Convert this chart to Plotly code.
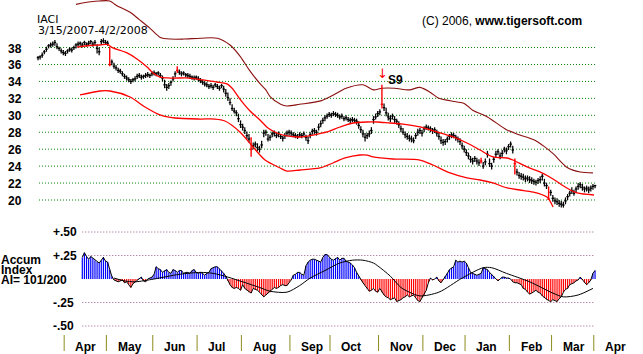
import plotly.graph_objects as go

# ---------------- data ----------------
closes = [
    36.8, 36.9, 37.1, 37.5, 37.8, 38.2, 38.3, 38.4, 38.6, 38.1,
    37.9, 37.6, 37.4, 37.3, 37.6, 37.8, 37.7, 38.0, 38.3, 38.4,
    38.5, 38.3, 38.6, 38.4, 38.5, 38.7, 38.4, 38.6, 37.9, 37.5,
    38.7, 38.8, 38.6, 38.5, 36.0, 36.3, 35.8, 35.6, 35.3, 35.2,
    34.9, 34.6, 34.4, 34.2, 34.0, 34.2, 34.3, 34.6, 34.7, 34.5,
    34.6, 34.7, 34.8, 34.7, 34.9, 35.0, 34.9, 35.0, 34.7, 34.4,
    33.6, 33.3, 33.5, 33.9, 34.3, 34.9, 35.3, 35.1, 34.9, 35.0,
    34.8, 34.7, 34.6, 34.5, 34.4, 34.5, 34.3, 34.1, 33.9, 33.7,
    33.6, 33.4, 33.5, 33.3, 33.6, 33.4, 33.2, 33.5, 33.1, 32.6,
    32.1, 31.5, 30.8, 30.5, 30.3, 29.6, 28.9, 28.6, 28.2, 27.6,
    27.2, 26.0, 26.4, 26.6, 26.2, 26.0, 26.5, 27.9, 28.0, 27.2,
    27.4, 27.8, 27.9, 27.6, 27.8, 27.5, 27.3, 27.6, 27.9, 28.0,
    27.9, 27.7, 27.6, 27.5, 27.7, 27.6, 27.8, 27.4, 27.0, 27.7,
    28.1, 28.2, 28.0, 28.6, 29.0, 29.4, 29.7, 29.9, 30.1, 30.0,
    30.2, 30.1, 30.0, 29.8, 29.9, 29.6, 29.7, 29.5, 29.4, 29.5,
    29.4, 29.3, 28.8, 28.3, 27.8, 27.4, 27.6, 27.8, 28.2, 29.5,
    29.8, 30.2, 30.4, 31.3, 30.9, 30.3, 29.8, 29.6, 29.9, 29.5,
    29.3, 28.9, 28.4, 28.0, 27.7, 27.5, 27.3, 27.2, 27.0, 27.6,
    28.0, 28.2, 27.9, 28.4, 28.6, 28.5, 28.4, 28.2, 28.3, 27.9,
    27.5, 27.0, 26.8, 26.9, 27.2, 27.5, 27.7, 27.6, 27.4, 27.2,
    26.9, 26.4, 26.0, 25.6, 25.2, 24.8, 24.6, 24.9, 24.6, 24.4,
    24.6, 24.0, 24.5, 25.4, 24.3, 24.0, 24.8, 25.4, 25.7, 25.2,
    25.5, 26.0, 25.8, 26.3, 26.6, 25.9, 24.3, 23.3, 22.9, 22.8,
    22.7, 22.5, 22.6, 22.4, 22.3, 22.2, 22.1, 22.3, 22.4, 22.8,
    22.0, 21.7, 20.1, 20.9, 20.2, 19.9, 19.8, 19.6, 19.5, 19.4,
    19.9, 20.4, 20.8, 21.1, 20.8, 21.3, 21.6, 21.8, 21.5, 21.3,
    21.4, 21.2, 21.4, 21.6, 21.7,
]
highs = [
    37.0, 37.1, 37.4, 37.7, 38.1, 38.4, 38.6, 38.7, 38.9, 38.5,
    38.1, 37.9, 37.7, 37.6, 37.8, 38.0, 38.0, 38.2, 38.5, 38.7,
    38.7, 38.6, 38.8, 38.6, 38.8, 38.9, 38.7, 38.9, 38.4, 38.0,
    39.0, 39.1, 38.9, 38.8, 38.1, 36.6, 36.2, 35.9, 35.6, 35.5,
    35.2, 34.9, 34.7, 34.5, 34.3, 34.4, 34.6, 34.9, 35.0, 34.8,
    34.8, 35.0, 35.1, 34.9, 35.2, 35.3, 35.1, 35.2, 35.0, 34.7,
    34.2, 33.7, 33.8, 34.1, 34.6, 35.2, 35.8, 35.4, 35.2, 35.2,
    35.0, 35.0, 34.9, 34.7, 34.7, 34.7, 34.6, 34.4, 34.2, 34.0,
    33.9, 33.7, 33.8, 33.6, 33.8, 33.7, 33.5, 33.7, 33.5, 33.1,
    32.7, 32.0, 31.3, 30.9, 30.6, 30.2, 29.4, 29.0, 28.6, 28.1,
    27.8, 27.4, 26.8, 26.9, 26.7, 26.4, 27.0, 28.3, 28.3, 27.8,
    27.7, 28.1, 28.2, 27.9, 28.1, 27.8, 27.6, 27.9, 28.2, 28.3,
    28.2, 28.0, 27.9, 27.8, 28.0, 27.9, 28.1, 27.7, 27.5, 28.0,
    28.4, 28.5, 28.3, 29.0, 29.4, 29.7, 30.0, 30.2, 30.4, 30.3,
    30.5, 30.4, 30.3, 30.1, 30.2, 29.9, 30.0, 29.8, 29.7, 29.8,
    29.7, 29.6, 29.3, 28.7, 28.3, 27.9, 27.9, 28.2, 28.6, 29.9,
    30.2, 30.5, 30.7, 33.6, 31.4, 30.9, 30.3, 30.0, 30.2, 29.9,
    29.6, 29.3, 28.8, 28.5, 28.1, 27.9, 27.7, 27.6, 27.4, 27.9,
    28.4, 28.5, 28.3, 28.7, 28.9, 28.8, 28.7, 28.5, 28.6, 28.3,
    27.9, 27.5, 27.2, 27.2, 27.5, 27.8, 28.0, 27.9, 27.7, 27.5,
    27.3, 26.8, 26.4, 26.0, 25.6, 25.2, 25.0, 25.2, 25.0, 24.8,
    25.0, 24.5, 24.9, 25.8, 24.9, 24.4, 25.1, 25.8, 26.0, 25.6,
    25.9, 26.3, 26.2, 26.6, 26.9, 26.4, 24.9, 23.7, 23.3, 23.2,
    23.1, 22.9, 22.9, 22.8, 22.7, 22.5, 22.4, 22.6, 22.8, 23.1,
    22.5, 22.0, 21.6, 21.2, 20.6, 20.3, 20.2, 20.0, 19.9, 19.8,
    20.3, 20.7, 21.1, 21.5, 21.2, 21.6, 22.0, 22.1, 21.9, 21.6,
    21.7, 21.6, 21.7, 21.9, 21.8,
]
lows = [
    36.5, 36.6, 36.8, 37.2, 37.5, 37.9, 38.0, 38.1, 38.2, 37.8,
    37.6, 37.3, 37.1, 37.0, 37.3, 37.5, 37.4, 37.7, 37.9, 38.1,
    38.2, 38.0, 38.3, 38.1, 38.2, 38.4, 38.1, 38.3, 37.3, 37.1,
    38.3, 38.5, 38.3, 38.2, 35.8, 35.9, 35.5, 35.3, 35.0, 34.9,
    34.6, 34.3, 34.1, 33.9, 33.7, 33.9, 34.0, 34.3, 34.4, 34.2,
    34.3, 34.4, 34.5, 34.4, 34.6, 34.7, 34.6, 34.7, 34.4, 34.0,
    33.2, 32.9, 33.1, 33.5, 34.0, 34.5, 35.0, 34.8, 34.6, 34.7,
    34.5, 34.4, 34.3, 34.2, 34.1, 34.2, 34.0, 33.8, 33.6, 33.4,
    33.3, 33.1, 33.2, 33.0, 33.3, 33.1, 32.9, 33.2, 32.7, 32.2,
    31.7, 31.2, 30.5, 30.2, 29.9, 29.2, 28.5, 28.2, 27.8, 27.2,
    26.8, 25.1, 26.0, 26.2, 25.8, 25.6, 26.1, 27.4, 27.6, 26.9,
    27.0, 27.4, 27.5, 27.3, 27.4, 27.2, 26.9, 27.2, 27.5, 27.6,
    27.5, 27.4, 27.3, 27.2, 27.4, 27.3, 27.5, 27.0, 26.6, 27.3,
    27.7, 27.8, 27.6, 28.2, 28.6, 29.0, 29.3, 29.6, 29.8, 29.7,
    29.9, 29.8, 29.7, 29.5, 29.6, 29.3, 29.4, 29.2, 29.1, 29.2,
    29.1, 28.9, 28.4, 27.9, 27.4, 26.9, 27.2, 27.4, 27.8, 29.0,
    29.5, 29.8, 30.0, 30.8, 30.5, 29.9, 29.4, 29.2, 29.5, 29.1,
    28.9, 28.5, 28.0, 27.7, 27.3, 27.1, 26.9, 26.8, 26.7, 27.2,
    27.6, 27.8, 27.5, 28.0, 28.3, 28.2, 28.0, 27.8, 27.9, 27.5,
    27.1, 26.6, 26.4, 26.5, 26.8, 27.1, 27.3, 27.3, 27.0, 26.8,
    26.5, 26.0, 25.6, 25.2, 24.8, 24.4, 24.2, 24.5, 24.2, 24.0,
    24.3, 23.7, 24.1, 25.0, 23.9, 23.6, 24.4, 25.0, 25.3, 24.8,
    25.1, 25.6, 25.4, 25.9, 26.2, 25.5, 23.0, 22.9, 22.5, 22.4,
    22.3, 22.1, 22.2, 22.0, 21.9, 21.8, 21.7, 21.9, 22.0, 22.3,
    21.6, 21.3, 20.0, 20.5, 19.8, 19.5, 19.4, 19.2, 19.1, 19.1,
    19.5, 20.0, 20.4, 20.7, 20.5, 20.9, 21.2, 21.4, 21.1, 20.9,
    21.0, 20.8, 21.0, 21.2, 21.4,
]
red_bars = [34, 66, 101, 163, 210, 226, 242]

# Bollinger-style bands (trading-day index, price)
upper_idx = [18, 25, 29, 34, 37, 44, 48, 53, 58, 63, 69, 77, 85, 91, 96, 100, 105, 108, 110,
             115, 118, 124, 134, 140, 146, 154, 159, 163, 169, 176, 181, 186, 190, 198, 202,
             206, 213, 222, 228, 235, 240, 244, 251, 257, 263]
upper_val = [43.1, 43.4, 43.5, 43.5, 43.0, 42.1, 41.3, 40.3, 39.2, 39.0, 39.0, 39.1, 39.1, 38.3,
             36.9, 35.4, 33.8, 33.0, 32.2, 31.3, 31.1, 31.3, 31.7, 32.4, 33.2, 33.6, 33.0, 33.2,
             33.2, 33.0, 33.3, 32.7, 32.0, 31.6, 31.4, 30.6, 29.8, 28.3, 27.7, 27.1, 26.3, 25.5,
             23.8, 23.3, 23.2]
mid_idx = [18.5, 24.6, 29.4, 32.7, 35.5, 42.2, 46.9, 51.7, 54.5, 57.8, 62.6, 72, 78.2, 84.8,
           89.6, 91.9, 95.7, 100.5, 105.2, 109, 113.3, 118, 124.2, 130.3, 137, 143.1, 149.3,
           155.9, 160.7, 166.8, 173, 181, 189.1, 196.7, 203.3, 209.5, 215.6, 222.3, 225.1,
           231.8, 237.9, 244.1, 249.8, 255.5, 263.5]
mid_val = [38.06, 38.24, 38.30, 38.36, 37.95, 37.36, 36.65, 35.70, 34.99, 34.52, 34.40, 34.40,
           34.17, 33.93, 33.70, 33.22, 31.92, 30.51, 29.45, 28.50, 27.91, 27.56, 27.44, 27.67,
           28.03, 28.62, 29.09, 29.21, 29.21, 29.09, 28.97, 28.62, 28.03, 27.44, 26.73, 25.90,
           25.08, 24.96, 24.72, 23.90, 23.31, 22.48, 21.53, 20.83, 20.59]
lower_idx = [19.9, 29.4, 34.1, 43.6, 50.7, 57.8, 64.9, 76.8, 83.9, 88.6, 95.7, 101.9, 107.6,
             114.7, 118, 124.2, 133.6, 139.8, 145.5, 152.6, 155.9, 158.8, 168.2, 181, 187.2,
             195.3, 203.3, 209.5, 215.6, 222.3, 228.4, 234.6, 241.2, 244.1]
lower_val = [32.40, 32.87, 32.87, 32.16, 30.98, 30.04, 29.68, 29.56, 29.56, 29.33, 28.03, 26.26,
             24.72, 23.78, 23.42, 23.54, 23.78, 24.37, 24.96, 25.31, 25.31, 25.08, 24.84, 24.72,
             24.13, 23.19, 22.60, 22.36, 22.01, 21.42, 21.18, 20.94, 20.35, 19.17]

# Accumulation index (starts at trading day 21)
ai_start = 21
ai = [
    0.23, 0.28, 0.24, 0.21, 0.24, 0.22, 0.20, 0.18, 0.17, 0.20,
    0.23, 0.19, 0.18, 0.10, 0.03, -0.01, -0.02, -0.03, -0.02, -0.01,
    -0.04, -0.03, -0.06, -0.09, -0.05, -0.03, -0.01, 0.01, 0.02, -0.02,
    -0.03, 0.00, 0.01, 0.02, 0.05, 0.13, 0.11, 0.10, 0.07, 0.09,
    0.10, 0.07, 0.06, 0.10, 0.09, 0.07, 0.09, 0.09, 0.06, 0.07,
    0.07, 0.06, 0.09, 0.10, 0.07, 0.06, 0.07, 0.06, 0.04, 0.06,
    0.07, 0.11, 0.12, 0.13, 0.13, 0.11, 0.09, 0.06, 0.03, -0.02,
    -0.06, -0.09, -0.10, -0.09, -0.10, -0.12, -0.06, -0.10, -0.12, -0.14,
    -0.15, -0.10, -0.11, -0.12, -0.14, -0.17, -0.19, -0.17, -0.15, -0.14,
    -0.11, -0.09, -0.10, -0.09, -0.07, -0.06, -0.07, -0.07, -0.04, -0.01,
    0.04, 0.05, 0.07, 0.07, 0.05, 0.04, 0.14, 0.18, 0.20, 0.21,
    0.21, 0.20, 0.19, 0.18, 0.23, 0.26, 0.26, 0.23, 0.21, 0.20,
    0.22, 0.23, 0.20, 0.22, 0.22, 0.19, 0.18, 0.17, 0.15, 0.12,
    0.07, 0.03, -0.01, -0.04, -0.07, -0.10, -0.13, -0.12, -0.10, -0.13,
    -0.14, -0.10, -0.14, -0.17, -0.19, -0.20, -0.22, -0.21, -0.20, -0.24,
    -0.23, -0.22, -0.20, -0.19, -0.17, -0.19, -0.18, -0.17, -0.20, -0.23,
    -0.24, -0.20, -0.17, -0.12, -0.04, 0.01, -0.01, 0.00, 0.02, -0.02,
    -0.04, -0.01, 0.03, 0.06, 0.10, 0.12, 0.13, 0.20, 0.18, 0.19,
    0.18, 0.19, 0.17, 0.12, 0.07, 0.06, 0.05, 0.04, 0.05, 0.06,
    0.12, 0.11, 0.10, 0.07, 0.05, 0.03, 0.00, -0.02, 0.00, 0.02,
    0.02, 0.01, 0.01, 0.00, -0.03, -0.04, -0.04, -0.05, -0.06, -0.10,
    -0.11, -0.14, -0.16, -0.15, -0.13, -0.12, -0.14, -0.15, -0.18, -0.20,
    -0.22, -0.23, -0.24, -0.22, -0.23, -0.24, -0.21, -0.19, -0.14, -0.11,
    -0.10, -0.06, -0.05, -0.04, -0.02, -0.01, 0.02, -0.01, -0.04, -0.06,
    -0.04, -0.01, 0.06, 0.09,
]
ai_ma_idx = [36, 41, 46, 55, 67, 77, 83, 90, 97, 105, 110, 118, 124, 129, 136, 143, 149, 154,
             159, 161, 167, 172, 176, 181, 190, 201, 211, 215, 222, 233, 244, 249, 256, 263]
ai_ma = [0.01, -0.02, -0.03, 0.00, 0.05, 0.07, 0.06, 0.02, -0.03, -0.09, -0.13, -0.14, -0.07,
         0.01, 0.09, 0.17, 0.20, 0.20, 0.17, 0.14, 0.03, -0.09, -0.14, -0.18, -0.14, 0.01,
         0.12, 0.12, 0.06, -0.03, -0.15, -0.19, -0.17, -0.10]

price_ticks = [38, 36, 34, 32, 30, 28, 26, 24, 22, 20]
ai_ticks = [0.50, 0.25, -0.25, -0.50]
ai_tick_labels = ["+.50", "+.25", "-.25", "-.50"]
month_idx = [12, 32, 54, 75, 96, 119, 138, 161, 182, 202, 223, 243, 263]
month_names = ["Apr", "May", "Jun", "Jul", "Aug", "Sep", "Oct", "Nov", "Dec", "Jan", "Feb", "Mar", "Apr"]

# ---------------- layout geometry ----------------
W, H = 643, 354
PX = 2.11            # pixels per trading day
X0 = 38              # pixel of first bar
PPU = 8.47           # pixels per price unit
Y20 = 200            # pixel of price 20
APU = 94             # pixels per 1.0 of AI
Y0AI = 279           # pixel of AI zero

xr = [-X0 / PX, (W - X0) / PX]
yr = [20 - (H - Y20) / PPU, 20 + Y20 / PPU]
y2r = [-(H - Y0AI) / APU, Y0AI / APU]

def px(xp):
    return xp / W

def py(yp):
    return 1 - yp / H

FONT = "Liberation Sans, Arial, sans-serif"
fig = go.Figure()

# price grid
gx, gy = [], []
for t in price_ticks:
    gx += [0.5, 264, None]
    gy += [t, t, None]
fig.add_trace(go.Scatter(x=gx, y=gy, mode="lines", line=dict(color="#008000", width=1, dash="1px,2px"),
                         hoverinfo="skip", showlegend=False))
# AI grid
ax_, ay_ = [], []
for t in ai_ticks:
    ax_ += [21, 264, None]
    ay_ += [t, t, None]
fig.add_trace(go.Scatter(x=ax_, y=ay_, yaxis="y2", mode="lines",
                         line=dict(color="#9a5a8a", width=1, dash="1px,2px"),
                         hoverinfo="skip", showlegend=False))

# price bars
def bar_segments(indices):
    xs, ys = [], []
    for i in indices:
        xs += [i, i, None, i - 0.6, i + 0.6, None]
        ys += [lows[i], highs[i], None, closes[i], closes[i], None]
    return xs, ys

bx, by = bar_segments([i for i in range(len(closes)) if i not in red_bars])
fig.add_trace(go.Scatter(x=bx, y=by, mode="lines", line=dict(color="black", width=1.25),
                         hoverinfo="skip", showlegend=False))

# bands
fig.add_trace(go.Scatter(x=upper_idx, y=upper_val, mode="lines",
                         line=dict(color="#8b1010", width=1.1, shape="spline", smoothing=0.8),
                         hoverinfo="skip", showlegend=False))
fig.add_trace(go.Scatter(x=mid_idx, y=mid_val, mode="lines",
                         line=dict(color="#ff0000", width=1.3, shape="spline", smoothing=0.8),
                         hoverinfo="skip", showlegend=False))
fig.add_trace(go.Scatter(x=lower_idx, y=lower_val, mode="lines",
                         line=dict(color="#ff0000", width=1.3, shape="spline", smoothing=0.8),
                         hoverinfo="skip", showlegend=False))

rx, ry = bar_segments(red_bars)
fig.add_trace(go.Scatter(x=rx, y=ry, mode="lines", line=dict(color="#ff0000", width=1.4),
                         hoverinfo="skip", showlegend=False))

# accumulation index bars
pbx, pby, nbx, nby = [], [], [], []
for k, v in enumerate(ai):
    i = ai_start + k
    if v > 0:
        pbx += [i, i, None]
        pby += [0, v, None]
    elif v < 0:
        nbx += [i, i, None]
        nby += [0, v, None]
fig.add_trace(go.Scatter(x=pbx, y=pby, yaxis="y2", mode="lines", line=dict(color="#0000ff", width=1.2),
                         hoverinfo="skip", showlegend=False))
fig.add_trace(go.Scatter(x=nbx, y=nby, yaxis="y2", mode="lines", line=dict(color="#ff0000", width=1.2),
                         hoverinfo="skip", showlegend=False))
fig.add_trace(go.Scatter(x=[ai_start + k for k in range(len(ai))], y=ai, yaxis="y2", mode="lines",
                         line=dict(color="black", width=1), hoverinfo="skip", showlegend=False))
fig.add_trace(go.Scatter(x=ai_ma_idx, y=ai_ma, yaxis="y2", mode="lines",
                         line=dict(color="black", width=1, shape="spline", smoothing=0.8),
                         hoverinfo="skip", showlegend=False))

# month separators
shapes = []
for m in month_idx:
    shapes.append(dict(type="line", xref="x", yref="paper", x0=m + 0.4, x1=m + 0.4,
                       y0=py(335), y1=py(351), line=dict(color="#8c8c1e", width=1)))

ann = []
def text(xp, yp, s, size=12, color="black", xanchor="left", family=FONT, height=None):
    a = dict(xref="paper", yref="paper", x=px(xp), y=py(yp), text=s, showarrow=False,
             xanchor=xanchor, yanchor="middle", borderpad=0,
             font=dict(family=family, size=size, color=color))
    if height is not None:
        a["height"] = height
    ann.append(a)

for t in price_ticks:
    yp = Y20 - (t - 20) * PPU
    text(7, yp + 1, "<b>%d</b>" % t)
for t, lab in zip(ai_ticks, ai_tick_labels):
    yp = Y0AI - t * APU
    text(52, yp, "<b>%s</b>" % lab)
for m, name in zip(month_idx, month_names):
    xp = X0 + m * PX + 11
    text(xp, 346.5, "<b>%s</b>" % name)

text(36, 19, "IACI", size=11, family="DejaVu Sans", height=10)
text(37, 30, "3/15/2007-4/2/2008", size=11, family="DejaVu Sans", height=10)
text(421, 21, "(C) 2006, <b>www.tigersoft.com</b>", size=12)
text(0, 259, "<b>Accum</b>", height=9)
text(0, 269, "<b>Index</b>", height=9)
text(0, 279.5, "<b>AI= 101/200</b>", height=9)
text(387, 80, "<b>S9</b>", size=12)
text(382, 74, "↓", size=13, color="#ff0000", xanchor="center", family="DejaVu Sans")

fig.update_layout(
    width=W, height=H, autosize=False,
    margin=dict(l=0, r=0, t=0, b=0, pad=0),
    paper_bgcolor="white", plot_bgcolor="white",
    showlegend=False,
    xaxis=dict(range=xr, visible=False, fixedrange=True),
    yaxis=dict(range=yr, visible=False, fixedrange=True),
    yaxis2=dict(range=y2r, visible=False, overlaying="y", fixedrange=True),
    shapes=shapes, annotations=ann,
)

fig.write_html("out.html")
